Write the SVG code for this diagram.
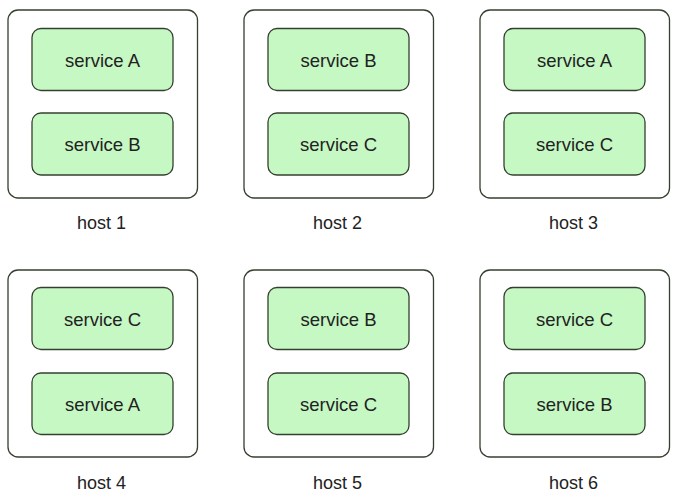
<svg xmlns="http://www.w3.org/2000/svg" width="682" height="493" viewBox="0 0 682 493">
<style>
.host{fill:#fff;stroke:#34402f;stroke-width:1.3}
.svc{fill:#c6f8c4;stroke:#34402f;stroke-width:1.3}
text{font-family:"Liberation Sans",Arial,sans-serif;fill:#222;text-anchor:middle}
.st{font-size:18.5px}
.hl{font-size:18px}
</style>
<rect width="682" height="493" fill="#fff"/>
<g id="host1">
<rect class="host" x="8" y="10" width="189.5" height="188" rx="10"/>
<g id="host1-svcA"><rect class="svc" x="32" y="28.5" width="141" height="62" rx="9"/><text class="st" x="102.5" y="66.5">service A</text></g>
<g id="host1-svcB"><rect class="svc" x="32" y="113" width="141" height="62" rx="9"/><text class="st" x="102.5" y="151">service B</text></g>
<text class="hl" x="101.5" y="228.5">host 1</text>
</g>
<g id="host2">
<rect class="host" x="244" y="10" width="189.5" height="188" rx="10"/>
<g id="host2-svcB"><rect class="svc" x="268" y="28.5" width="141" height="62" rx="9"/><text class="st" x="338.5" y="66.5">service B</text></g>
<g id="host2-svcC"><rect class="svc" x="268" y="113" width="141" height="62" rx="9"/><text class="st" x="338.5" y="151">service C</text></g>
<text class="hl" x="337.5" y="228.5">host 2</text>
</g>
<g id="host3">
<rect class="host" x="480" y="10" width="189.5" height="188" rx="10"/>
<g id="host3-svcA"><rect class="svc" x="504" y="28.5" width="141" height="62" rx="9"/><text class="st" x="574.5" y="66.5">service A</text></g>
<g id="host3-svcC"><rect class="svc" x="504" y="113" width="141" height="62" rx="9"/><text class="st" x="574.5" y="151">service C</text></g>
<text class="hl" x="573.5" y="228.5">host 3</text>
</g>
<g id="host4">
<rect class="host" x="8" y="270" width="189.5" height="187" rx="10"/>
<g id="host4-svcC"><rect class="svc" x="32" y="287.5" width="141" height="62" rx="9"/><text class="st" x="102.5" y="325.5">service C</text></g>
<g id="host4-svcA"><rect class="svc" x="32" y="373" width="141" height="61.5" rx="9"/><text class="st" x="102.5" y="410.5">service A</text></g>
<text class="hl" x="101.5" y="488.5">host 4</text>
</g>
<g id="host5">
<rect class="host" x="244" y="270" width="189.5" height="187" rx="10"/>
<g id="host5-svcB"><rect class="svc" x="268" y="287.5" width="141" height="62" rx="9"/><text class="st" x="338.5" y="325.5">service B</text></g>
<g id="host5-svcC"><rect class="svc" x="268" y="373" width="141" height="61.5" rx="9"/><text class="st" x="338.5" y="410.5">service C</text></g>
<text class="hl" x="337.5" y="488.5">host 5</text>
</g>
<g id="host6">
<rect class="host" x="480" y="270" width="189.5" height="187" rx="10"/>
<g id="host6-svcC"><rect class="svc" x="504" y="287.5" width="141" height="62" rx="9"/><text class="st" x="574.5" y="325.5">service C</text></g>
<g id="host6-svcB"><rect class="svc" x="504" y="373" width="141" height="61.5" rx="9"/><text class="st" x="574.5" y="410.5">service B</text></g>
<text class="hl" x="573.5" y="488.5">host 6</text>
</g>
<g id="connectors"/>
</svg>
